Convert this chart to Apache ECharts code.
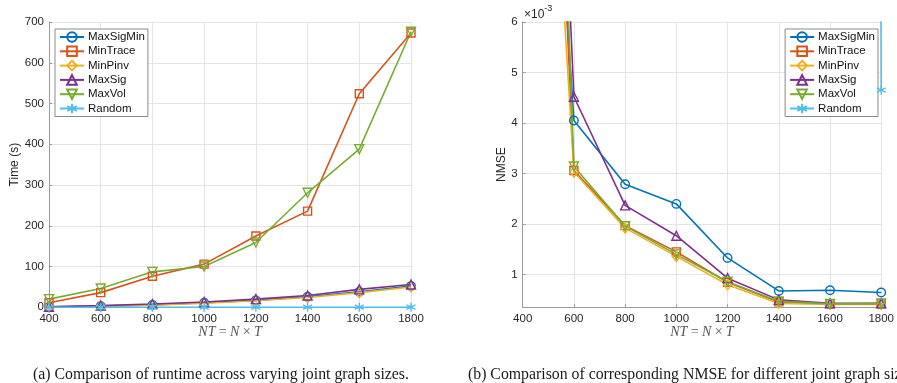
<!DOCTYPE html>
<html>
<head>
<meta charset="utf-8">
<script src="https://cdn.jsdelivr.net/npm/echarts@6/dist/echarts.min.js"></script>
<style>html,body{margin:0;padding:0;background:#fff;}#c{width:897px;height:383px;}</style>
</head>
<body>
<div id="c"></div>
<script>
// ---------- data ----------
var xValues = [400, 600, 800, 1000, 1200, 1400, 1600, 1800];
var seriesNames = ['MaxSigMin', 'MinTrace', 'MinPinv', 'MaxSig', 'MaxVol', 'Random'];

// (a) runtime in seconds
var timeMaxSigMin = [1, 3, 6, 11, 17, 26, 38, 52];
var timeMinTrace  = [11, 36, 76, 106, 175, 236, 524, 673];
var timeMinPinv   = [0.5, 2.5, 5, 10, 16, 24, 36, 50];
var timeMaxSig    = [1.5, 4, 8, 13, 20, 29, 44, 56];
var timeMaxVol    = [20, 46, 87, 100, 159, 281, 388, 676];
var timeRandom    = [0.3, 0.3, 0.3, 0.3, 0.3, 0.3, 0.3, 0.3];

// (b) NMSE in units of 1e-3 (values above 6 are off the plotted range)
var nmseMaxSigMin = [19.3, 4.05, 2.79, 2.40, 1.33, 0.677, 0.69, 0.645];
var nmseMinTrace  = [25, 3.06, 1.97, 1.45, 0.85, 0.46, 0.42, 0.42];
var nmseMinPinv   = [19.5, 3.03, 1.92, 1.36, 0.80, 0.43, 0.41, 0.41];
var nmseMaxSig    = [27.5, 4.52, 2.37, 1.77, 0.93, 0.50, 0.43, 0.43];
var nmseMaxVol    = [31, 3.14, 1.96, 1.40, 0.86, 0.47, 0.42, 0.43];
var nmseRandom    = [600, 500, 450, 420, 400, 380, 360, 4.65];

var timeTicks = [0, 100, 200, 300, 400, 500, 600, 700];
var nmseTicks = [1, 2, 3, 4, 5, 6];

// ---------- styles ----------
var colors = ['#0072BD', '#D95319', '#EDB120', '#7E2F8E', '#77AC30', '#4DBEEE'];
var asterisk = 'path://M5,0L5,10M0.67,2.5L9.33,7.5M0.67,7.5L9.33,2.5';
var symbols = ['circle', 'rect', 'diamond', 'triangle', 'triangle', asterisk];
var symbolSizes = [8.5, 8, [8, 10], 9, 9, 9];
var symbolRotates = [0, 0, 0, 0, 180, 0];

function pairs(arr) { return xValues.map(function (x, i) { return [x, arr[i]]; }); }

var timeData = [timeMaxSigMin, timeMinTrace, timeMinPinv, timeMaxSig, timeMaxVol, timeRandom];
var nmseData = [nmseMaxSigMin, nmseMinTrace, nmseMinPinv, nmseMaxSig, nmseMaxVol, nmseRandom];

var labelFont = { fontFamily: 'Liberation Sans, Arial, sans-serif', fontSize: 11.5, color: '#262626' };
var axisLineColor = '#9a9a9a';
var gridColor = '#e4e4e4';

function makeSeries(dataArr, idx) {
  return dataArr.map(function (arr, i) {
    return {
      name: seriesNames[i],
      type: 'line',
      xAxisIndex: idx, yAxisIndex: idx,
      data: pairs(arr),
      symbol: symbols[i],
      symbolSize: symbolSizes[i],
      symbolRotate: symbolRotates[i],
      showAllSymbol: true,
      clip: true,
      z: 3,
      lineStyle: { color: colors[i], width: 1.6 },
      itemStyle: { color: 'rgba(0,0,0,0)', borderColor: colors[i], borderWidth: 1.4 },
      emphasis: { disabled: true },
      animation: false
    };
  });
}

var xNameRich = {
  it: { fontFamily: 'Liberation Serif, serif', fontStyle: 'italic', fontSize: 14, color: '#555' },
  rm: { fontFamily: 'Liberation Serif, serif', fontSize: 14, color: '#555' }
};
var xName = '{it|NT} {rm|=} {it|N} {rm|×} {it|T}';

function xAxisCfg(gridIndex) {
  return {
    type: 'value', gridIndex: gridIndex, min: 400, max: 1800, interval: 200,
    name: xName, nameLocation: 'middle', nameGap: 18, nameMoveOverlap: false,
    nameTextStyle: { rich: xNameRich },
    axisLine: { show: true, onZero: false, lineStyle: { color: axisLineColor, width: 1 } },
    axisTick: { show: true, inside: true, length: 3, lineStyle: { color: axisLineColor } },
    axisLabel: Object.assign({ margin: 6, formatter: function (v) { return String(v); } }, labelFont),
    splitLine: { show: true, lineStyle: { color: gridColor, width: 1 } }
  };
}

function legendCfg(pos) {
  return Object.assign({
    orient: 'vertical', top: 29,
    backgroundColor: '#fff', borderColor: '#8a8a8a', borderWidth: 1, borderRadius: 0,
    padding: [2, 3, 2, 4],
    itemWidth: 24, itemHeight: 12, itemGap: 2.3,
    textStyle: { fontFamily: 'Liberation Sans, Arial, sans-serif', fontSize: 11.5, color: '#111', padding: [0, 0, 0, -1] },
    data: seriesNames,
    selectedMode: false,
    z: 2
  }, pos);
}

var chart = echarts.init(document.getElementById('c'), null, { renderer: 'canvas' });
var option = {
  backgroundColor: '#fff',
  animation: false,
  grid: [
    { left: 49, top: 22, width: 362, height: 285.3, containLabel: false },
    { left: 522.7, top: 22, width: 362.3, height: 285.3, containLabel: false }
  ],
  legend: [
    legendCfg({ left: 55 }),
    legendCfg({ right: 19 })
  ],
  xAxis: [xAxisCfg(0), xAxisCfg(1)],
  yAxis: [
    {
      type: 'value', gridIndex: 0, min: 0, max: 700, interval: 100,
      name: 'Time (s)', nameLocation: 'middle', nameGap: 28,
      nameTextStyle: { fontFamily: 'Liberation Sans, Arial, sans-serif', fontSize: 12, color: '#262626' },
      axisLine: { show: true, lineStyle: { color: axisLineColor, width: 1 } },
      axisTick: { show: true, inside: true, length: 3, lineStyle: { color: axisLineColor } },
      axisLabel: Object.assign({ margin: 5 }, labelFont),
      splitLine: { show: true, lineStyle: { color: gridColor, width: 1 } }
    },
    {
      type: 'value', gridIndex: 1, min: 0.353, max: 6,
      name: 'NMSE', nameLocation: 'middle', nameGap: 15,
      nameTextStyle: { fontFamily: 'Liberation Sans, Arial, sans-serif', fontSize: 12, color: '#262626' },
      axisLine: { show: true, lineStyle: { color: axisLineColor, width: 1 } },
      axisTick: { show: true, inside: true, length: 3, customValues: nmseTicks, lineStyle: { color: axisLineColor } },
      axisLabel: Object.assign({ margin: 5, customValues: nmseTicks }, labelFont),
      splitLine: { show: true, lineStyle: { color: gridColor, width: 1 } }
    }
  ],
  graphic: [
    {
      type: 'text', left: 524, top: 4,
      style: {
        text: '{a|×10}{b|-3}',
        rich: {
          a: { fontFamily: 'Liberation Sans, Arial, sans-serif', fontSize: 12, fill: '#262626', verticalAlign: 'bottom', lineHeight: 17 },
          b: { fontFamily: 'Liberation Sans, Arial, sans-serif', fontSize: 9, fill: '#262626', verticalAlign: 'top', lineHeight: 17 }
        }
      }
    },
    {
      type: 'text', left: 33, top: 367,
      style: { text: '(a) Comparison of runtime across varying joint graph sizes.', fontFamily: 'Liberation Serif, Times New Roman, serif', fontSize: 15.8, fill: '#1a1a1a' }
    },
    {
      type: 'text', left: 468, top: 367,
      style: { text: '(b) Comparison of corresponding NMSE for different joint graph sizes.', fontFamily: 'Liberation Serif, Times New Roman, serif', fontSize: 15.8, fill: '#1a1a1a' }
    }
  ],
  series: makeSeries(timeData, 0).concat(makeSeries(nmseData, 1))
};
chart.setOption(option);
</script>
</body>
</html>
